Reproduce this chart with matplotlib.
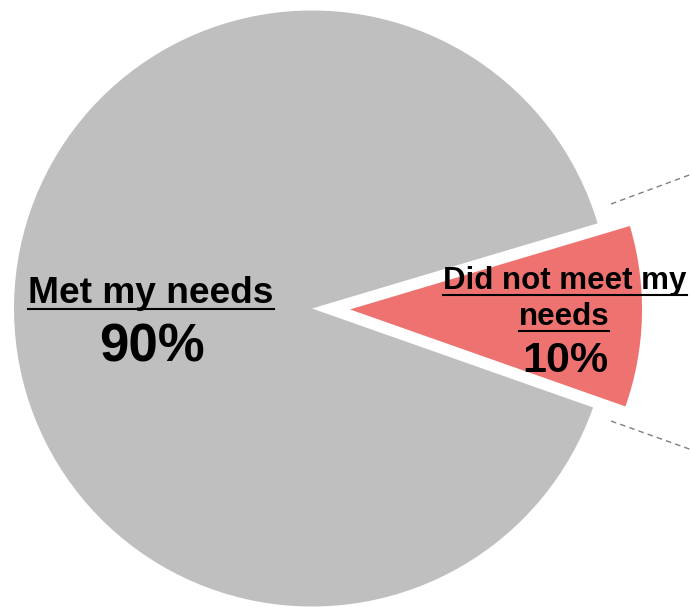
import matplotlib.pyplot as plt
import numpy as np

labels = ['Met my needs', 'Did not meet my needs']
values = [90, 10]
colors = ['#bfbfbf', '#ee7370']

R = 298  # pie radius in pixels
CX, CY = 312, 308.5  # pie centre in pixels (from top-left)

fig = plt.figure(figsize=(6.92, 6.07), dpi=100)
ax = fig.add_axes([0, 0, 1, 1])

wedges, _ = ax.pie(values, colors=colors, startangle=16.6, radius=1.0,
                   explode=[0, 0.1275], wedgeprops=dict(linewidth=0))
wedges[1].set_radius(0.98)

ax.set_xlim(-CX / R, (692 - CX) / R)
ax.set_ylim(-(607 - CY) / R, CY / R)
ax.set_aspect('equal')
ax.set_autoscale_on(False)
ax.axis('off')


def px(x, y):
    return (x - CX) / R, (CY - y) / R


# connector lines to the (cropped) breakdown on the right
for (xa, ya), (xb, yb) in [((611, 204), (692, 174)), ((611, 421), (692, 450))]:
    (x0, y0), (x1, y1) = px(xa, ya), px(xb, yb)
    ax.plot([x0, x1], [y0, y1], color='#808080', lw=1, ls=(0, (4, 3)))


def underlined(x, y, s, size):
    t = ax.text(*px(x, y), s, ha='center', va='baseline', fontsize=size,
                fontweight='bold', family='Liberation Sans')
    fig.canvas.draw()
    bb = t.get_window_extent()
    yb = 607 - y
    ax.plot([bb.x0, bb.x1], [yb - 6, yb - 6], color='black', lw=1.5,
            transform=None)
    return t


underlined(151, 303, labels[0], 26.7)
ax.text(*px(152, 362), f'{values[0]}%', ha='center', va='baseline',
        fontsize=38, fontweight='bold', family='Liberation Sans')

underlined(565, 289, 'Did not meet my', 22.5)
underlined(564, 325, 'needs', 22.5)
ax.text(*px(565, 372), f'{values[1]}%', ha='center', va='baseline',
        fontsize=31, fontweight='bold', family='Liberation Sans')

fig.savefig('out.png', dpi=100)
